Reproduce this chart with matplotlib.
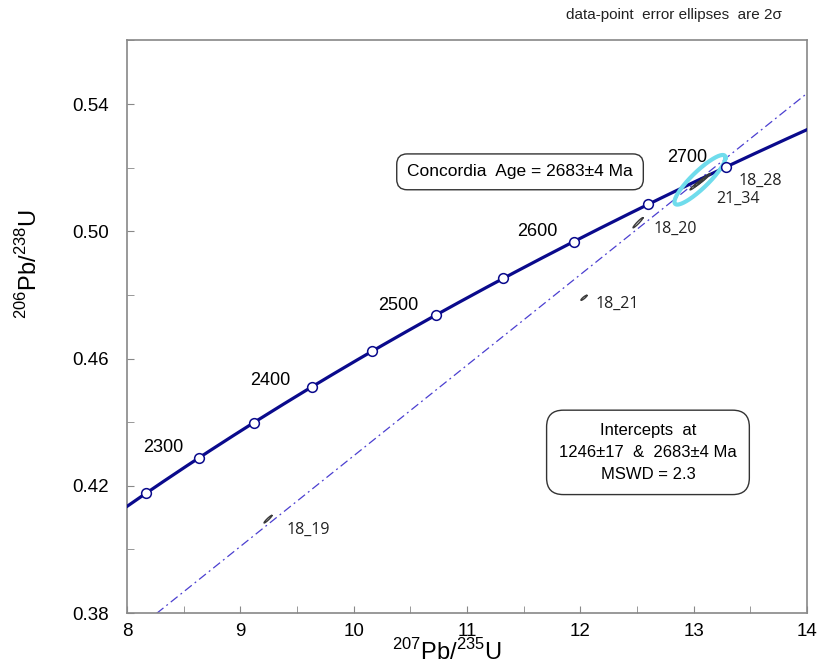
import numpy as np
import matplotlib.pyplot as plt

plt.rcParams['font.family'] = ['Liberation Sans', 'DejaVu Sans']
plt.rcParams['mathtext.fontset'] = 'custom'
plt.rcParams['mathtext.rm'] = 'Liberation Sans'

# decay constants (1/yr)
lam238 = 1.55125e-10
lam235 = 9.8485e-10

# ages marked on the concordia (Ma)
marker_ages = [2250, 2300, 2350, 2400, 2450, 2500, 2550, 2600, 2650, 2700]
label_ages = [2300, 2400, 2500, 2600, 2700]
label_x = [8.32, 9.26, 10.39, 11.62, 12.94]
label_y = [0.4321, 0.4531, 0.4766, 0.4998, 0.5231]

# discordia intercepts (Ma)
lower_int = 1246
upper_int = 2683

# analyses: centre x, centre y, 2-sigma half extents, correlation
spot_x = [9.244, 12.032, 12.509, 13.021, 13.056, 13.091]
spot_y = [0.4095, 0.4791, 0.5027, 0.5146, 0.5155, 0.5165]
spot_ex = [0.035, 0.027, 0.044, 0.053, 0.053, 0.053]
spot_ey = [0.0012, 0.0008, 0.0016, 0.00157, 0.00157, 0.00157]
spot_rho = [0.95, 0.9, 0.96, 0.96, 0.96, 0.96]

spot_names = ['18_19', '18_21', '18_20', '21_34', '18_28']
name_x = [9.597, 12.324, 12.835, 13.392, 13.586]
name_y = [0.4060, 0.4773, 0.5008, 0.5102, 0.5158]

# concordia age ellipse
conc_x, conc_y = 13.056, 0.5162
conc_ex, conc_ey, conc_rho = 0.225, 0.0078, 0.89


def concordia(t_ma):
    t = np.asarray(t_ma) * 1e6
    return np.exp(lam235 * t) - 1, np.exp(lam238 * t) - 1


def ellipse_pts(cx, cy, ex, ey, rho, n=200):
    a = np.linspace(0, 2 * np.pi, n)
    xs = cx + ex * np.cos(a)
    ys = cy + ey * (rho * np.cos(a) + np.sqrt(1 - rho ** 2) * np.sin(a))
    return xs, ys


fig = plt.figure(figsize=(8.2, 6.69), dpi=100)
ax = fig.add_axes([0.1549, 0.0837, 0.8292, 0.8558])

# concordia curve
ages = np.linspace(2000, 3000, 600)
cx, cy = concordia(ages)
ax.plot(cx, cy, color='#0a0a8c', lw=2.3, zorder=3)
mx, my = concordia(marker_ages)
ax.plot(mx, my, 'o', ms=7, mfc='white', mec='#0a0a8c', mew=1.1, zorder=5)
for a, x, y in zip(label_ages, label_x, label_y):
    ax.text(x, y, str(a), fontsize=13, ha='center', va='center')

# discordia line through both intercepts
(x1, x2), (y1, y2) = concordia([lower_int, upper_int])
slope = (y2 - y1) / (x2 - x1)
dx = np.array([7.5, 14.5])
ax.plot(dx, y2 + slope * (dx - x2), color='#4b3fd0', lw=0.9,
        linestyle=(0, (7, 3, 1.5, 3)), zorder=2)

# data-point ellipses
for x, y, ex, ey, r in zip(spot_x, spot_y, spot_ex, spot_ey, spot_rho):
    px, py = ellipse_pts(x, y, ex, ey, r)
    ax.plot(px, py, color='#3a3a3a', lw=1.0, zorder=4)
for s, x, y in zip(spot_names, name_x, name_y):
    ax.text(x, y, s, fontsize=11.5, ha='center', va='center',
            family=['Open Sans', 'DejaVu Sans'], color='#222222')

px, py = ellipse_pts(conc_x, conc_y, conc_ex, conc_ey, conc_rho)
ax.plot(px, py, color='#6fdcec', lw=3, zorder=4)

ax.text(11.468, 0.5187, 'Concordia  Age = 2683\u00b14 Ma', fontsize=12.5,
        ha='center', va='center',
        bbox=dict(boxstyle='round,pad=0.6,rounding_size=0.6', fc='white', ec='#333333', lw=1))
ax.text(12.597, 0.4305, 'Intercepts  at\n1246\u00b117  &  2683\u00b14 Ma\nMSWD = 2.3',
        fontsize=12, ha='center', va='center', linespacing=1.6,
        bbox=dict(boxstyle='round,pad=0.75,rounding_size=1.0', fc='white', ec='#333333', lw=1))

fig.text(0.822, 0.977, 'data-point  error ellipses  are 2\u03c3', fontsize=11,
         ha='center', va='center', color='#222222')

ax.set_xlim(8, 14)
ax.set_ylim(0.38, 0.56)
ax.set_xticks(np.arange(8, 14.01, 1))
ax.set_xticks(np.arange(8, 14.01, 0.5), minor=True)
ax.set_yticks([0.38, 0.42, 0.46, 0.50, 0.54])
ax.set_yticklabels(['0.38', '0.42', '0.46', '0.50', '0.54'])
ax.set_yticks(np.arange(0.38, 0.561, 0.02), minor=True)
ax.tick_params(which='both', direction='in', length=5, color='#888888',
               labelsize=13.5)
ax.tick_params(axis='y', pad=13)
ax.tick_params(axis='x', pad=7)
for sp in ax.spines.values():
    sp.set_color('#888888')
    sp.set_linewidth(1.2)

ax.set_xlabel(r'$^{207}$Pb/$^{235}$U', fontsize=17)
ax.set_ylabel(r'$^{206}$Pb/$^{238}$U', fontsize=17)
ax.xaxis.set_label_coords(0.47, -0.045)
ax.yaxis.set_label_coords(-0.125, 0.61)

fig.savefig('out.png', dpi=100)
